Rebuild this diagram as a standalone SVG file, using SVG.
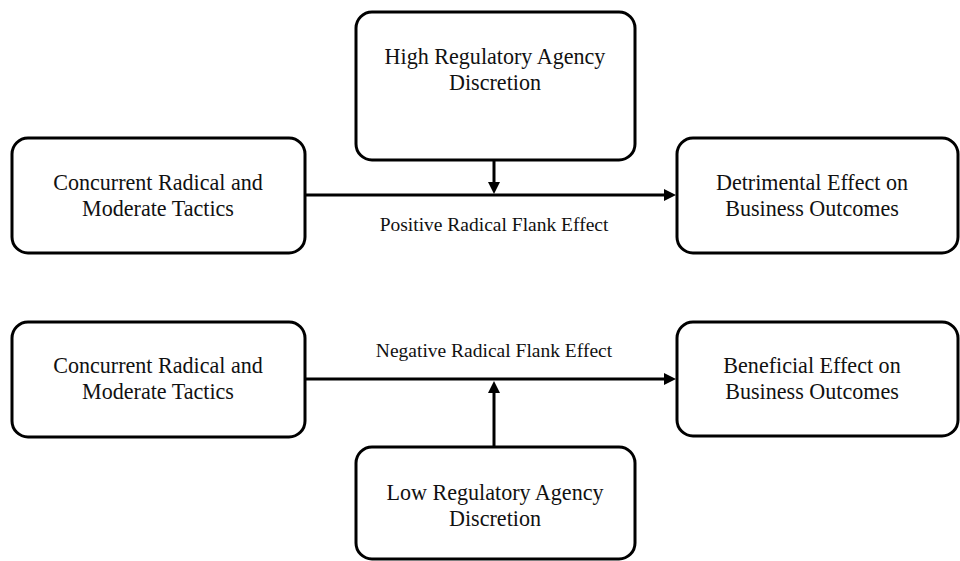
<svg xmlns="http://www.w3.org/2000/svg" width="960" height="561" viewBox="0 0 960 561">
  <style>
    .box { fill: #ffffff; stroke: #000000; stroke-width: 3; }
    .t { font-family: "Liberation Serif", "Times New Roman", serif; font-size: 23.5px; fill: #111111; text-anchor: middle; }
    .lbl { font-family: "Liberation Serif", "Times New Roman", serif; font-size: 19.5px; fill: #111111; text-anchor: middle; }
    .conn { stroke: #000000; stroke-width: 3; fill: none; }
  </style>
  <defs>
    <marker id="arr" markerUnits="userSpaceOnUse" markerWidth="14" markerHeight="12" refX="4" refY="6" orient="auto">
      <path d="M0,0 L12,6 L0,12 z" fill="#000000"/>
    </marker>
  </defs>
  <rect width="960" height="561" fill="#ffffff"/>

  <g id="connectors">
    <line class="conn" x1="305" y1="195" x2="668" y2="195" marker-end="url(#arr)"/>
    <line class="conn" x1="494" y1="160" x2="494" y2="186" marker-end="url(#arr)"/>
    <line class="conn" x1="305" y1="379" x2="668" y2="379" marker-end="url(#arr)"/>
    <line class="conn" x1="494" y1="447" x2="494" y2="389" marker-end="url(#arr)"/>
    <text class="lbl" x="494" y="231">Positive Radical Flank Effect</text>
    <text class="lbl" x="494" y="357">Negative Radical Flank Effect</text>
  </g>

  <g id="high-discretion">
    <rect class="box" x="356" y="12" width="279" height="148" rx="16"/>
    <text class="t" transform="translate(495 64) scale(0.94 1)">High Regulatory Agency</text>
    <text class="t" transform="translate(495 90) scale(0.94 1)">Discretion</text>
  </g>

  <g id="tactics-top">
    <rect class="box" x="12" y="138" width="293" height="115" rx="16"/>
    <text class="t" transform="translate(158 190) scale(0.94 1)">Concurrent Radical and</text>
    <text class="t" transform="translate(158 216) scale(0.94 1)">Moderate Tactics</text>
  </g>

  <g id="detrimental">
    <rect class="box" x="677" y="138" width="281" height="115" rx="16"/>
    <text class="t" transform="translate(812 190) scale(0.94 1)">Detrimental Effect on</text>
    <text class="t" transform="translate(812 216) scale(0.94 1)">Business Outcomes</text>
  </g>

  <g id="tactics-bottom">
    <rect class="box" x="12" y="322" width="293" height="115" rx="16"/>
    <text class="t" transform="translate(158 373) scale(0.94 1)">Concurrent Radical and</text>
    <text class="t" transform="translate(158 399) scale(0.94 1)">Moderate Tactics</text>
  </g>

  <g id="beneficial">
    <rect class="box" x="677" y="322" width="281" height="114" rx="16"/>
    <text class="t" transform="translate(812 373) scale(0.94 1)">Beneficial Effect on</text>
    <text class="t" transform="translate(812 399) scale(0.94 1)">Business Outcomes</text>
  </g>

  <g id="low-discretion">
    <rect class="box" x="356" y="447" width="279" height="112" rx="16"/>
    <text class="t" transform="translate(495 500) scale(0.94 1)">Low Regulatory Agency</text>
    <text class="t" transform="translate(495 526) scale(0.94 1)">Discretion</text>
  </g>
</svg>
